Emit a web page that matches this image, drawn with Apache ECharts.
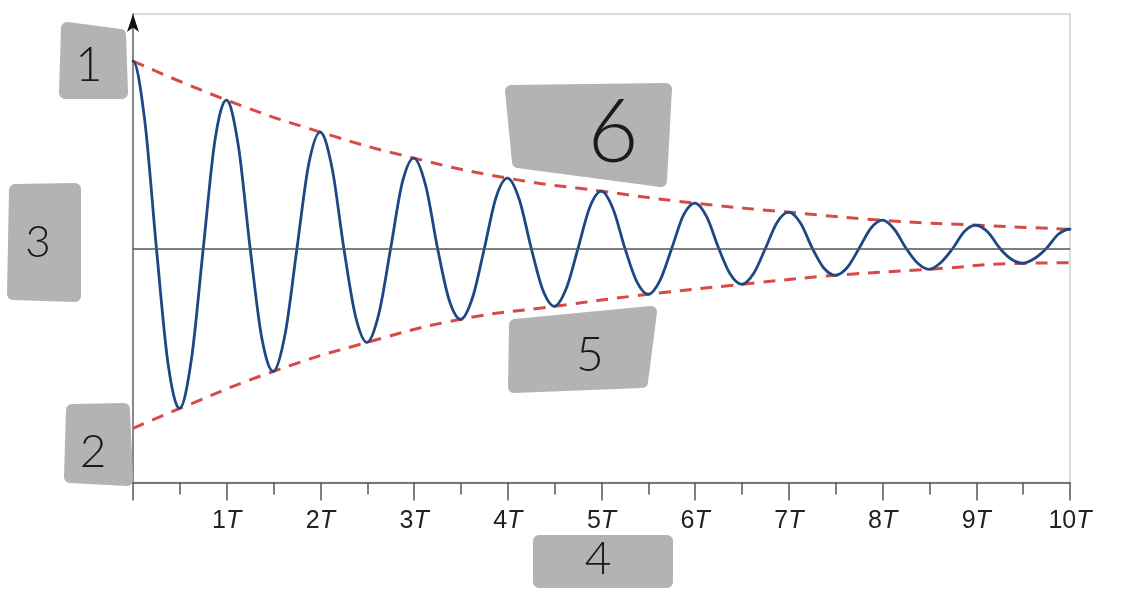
<!DOCTYPE html>
<html>
<head>
<meta charset="utf-8">
<script src="https://cdn.jsdelivr.net/npm/echarts@6/dist/echarts.min.js"></script>
<style>
  html, body { margin: 0; padding: 0; background: #fff; }
  #chart { width: 1126px; height: 590px; }
</style>
</head>
<body>
<div id="chart"></div>
<script>
// Displacement every 1/8 period (time in periods T)
const waveTimes = [
  0, 0.125, 0.25, 0.375, 0.5, 0.625, 0.75, 0.875,
  1, 1.125, 1.25, 1.375, 1.5, 1.625, 1.75, 1.875,
  2, 2.125, 2.25, 2.375, 2.5, 2.625, 2.75, 2.875,
  3, 3.125, 3.25, 3.375, 3.5, 3.625, 3.75, 3.875,
  4, 4.125, 4.25, 4.375, 4.5, 4.625, 4.75, 4.875,
  5, 5.125, 5.25, 5.375, 5.5, 5.625, 5.75, 5.875,
  6, 6.125, 6.25, 6.375, 6.5, 6.625, 6.75, 6.875,
  7, 7.125, 7.25, 7.375, 7.5, 7.625, 7.75, 7.875,
  8, 8.125, 8.25, 8.375, 8.5, 8.625, 8.75, 8.875,
  9, 9.125, 9.25, 9.375, 9.5, 9.625, 9.75, 9.875,
  10
];
const waveValues = [
  187, 128, 0, -116, -160, -110, 0, 108,
  148, 102, 0, -90, -123, -85, 0, 84,
  116, 80, 0, -68, -94, -65, 0, 66,
  90, 62, 0, -52, -71, -49, 0, 51,
  70, 48, 0, -42, -58, -40, 0, 41,
  57, 39, 0, -33, -46, -32, 0, 33,
  45, 31, 0, -26, -36, -25, 0, 26,
  36, 25, 0, -20, -27, -19, 0, 20,
  28, 19, 0, -15, -21, -14, 0, 17,
  23, 16, 0, -11, -15, -10, 0, 14,
  19
];
// Envelopes
const upperTimes = [0, 1, 2, 3, 4, 5, 6, 7, 8, 9, 10];
const upperValues = [187, 148, 116, 90, 70, 57, 45, 36, 28, 23, 19];
const lowerTimes = [0, 0.5, 1.5, 2.5, 3.5, 4.5, 5.5, 6.5, 7.5, 8.5, 9.5, 10];
const lowerValues = [-180, -160, -123, -94, -71, -58, -46, -36, -27, -21, -15, -14.5];
// Tick labels
const tickNumbers = ['', '1', '2', '3', '4', '5', '6', '7', '8', '9', '10'];
const tickUnit = 'T';
// Annotation box numbers
const boxLabels = ['1', '2', '3', '4', '5', '6'];

const wave = waveTimes.map((t, i) => [t, waveValues[i]]);
const upper = upperTimes.map((t, i) => [t, upperValues[i]]);
const lower = lowerTimes.map((t, i) => [t, lowerValues[i]]);

const chart = echarts.init(document.getElementById('chart'));

// Smooth curve through the wave samples (uniform Catmull-Rom), positioned via the axes
function renderWave(params, api) {
  if (params.dataIndexInside !== 0) return null;
  const pts = wave.map(p => api.coord(p));
  const n = pts.length;
  const first = [2 * pts[0][0] - pts[1][0], pts[1][1]];
  const last = [2 * pts[n - 1][0] - pts[n - 2][0], pts[n - 2][1]];
  const get = i => (i < 0 ? first : (i >= n ? last : pts[i]));
  let d = 'M' + pts[0][0].toFixed(2) + ' ' + pts[0][1].toFixed(2);
  for (let i = 0; i < n - 1; i++) {
    const p0 = get(i - 1), p1 = get(i), p2 = get(i + 1), p3 = get(i + 2);
    const c1x = p1[0] + (p2[0] - p0[0]) / 6, c1y = p1[1] + (p2[1] - p0[1]) / 6;
    const c2x = p2[0] - (p3[0] - p1[0]) / 6, c2y = p2[1] - (p3[1] - p1[1]) / 6;
    d += ' C' + c1x.toFixed(2) + ' ' + c1y.toFixed(2) + ' ' + c2x.toFixed(2) + ' ' + c2y.toFixed(2) +
         ' ' + p2[0].toFixed(2) + ' ' + p2[1].toFixed(2);
  }
  return {
    type: 'path',
    shape: { pathData: d },
    style: { fill: 'none', stroke: '#1d4883', lineWidth: 2.8, lineJoin: 'round', lineCap: 'round' }
  };
}

const boxColor = '#b3b3b3';
function box(points, label, tx, ty, size) {
  return [
    {
      type: 'polygon', silent: true, z: 10,
      shape: { points: points },
      style: { fill: boxColor, stroke: boxColor, lineWidth: 12, lineJoin: 'round' }
    },
    {
      type: 'text', silent: true, z: 11, x: tx, y: ty,
      style: {
        text: label, fill: '#1a1a1a', font: '300 ' + size + 'px Lato, "Open Sans", sans-serif',
        align: 'center', verticalAlign: 'middle'
      }
    }
  ];
}

const graphics = [].concat(
  box([[67, 28], [120, 35], [122, 93], [65, 93]], boxLabels[0], 89, 66, 47),
  box([[72, 410], [124, 409], [127, 480], [70, 477]], boxLabels[1], 93, 452, 46),
  box([[15, 190], [75, 189], [75, 296], [13, 294]], boxLabels[2], 38, 243, 44),
  box([[539, 541], [667, 541], [667, 582], [539, 582]], boxLabels[3], 598, 559, 46),
  box([[515, 325], [651, 312], [642, 382], [514, 387]], boxLabels[4], 590, 356, 48),
  box([[511, 91], [666, 89], [661, 181], [518, 162]], boxLabels[5], 613, 134, 88)
);

chart.setOption({
  backgroundColor: '#fff',
  animation: false,
  grid: {
    left: 133, right: 56, top: 14, bottom: 107.5,
    show: true, borderColor: '#cfcfcf', borderWidth: 1.5, backgroundColor: '#fff'
  },
  xAxis: {
    type: 'value', min: 0, max: 10, interval: 1,
    axisLine: { show: true, onZero: false, lineStyle: { color: '#777', width: 2 } },
    axisTick: { show: true, length: 18, lineStyle: { color: '#555', width: 1.5 } },
    minorTick: { show: true, splitNumber: 2, length: 12, lineStyle: { color: '#555', width: 1.5 } },
    splitLine: { show: false },
    axisLabel: {
      margin: 26,
      formatter: function (v) {
        const n = tickNumbers[Math.round(v)];
        return n ? '{n|' + n + '}{t|' + tickUnit + '}' : '';
      },
      rich: {
        n: { fontFamily: 'Liberation Sans, Arial, sans-serif', fontSize: 25, color: '#222', lineHeight: 26 },
        t: { fontFamily: 'Liberation Sans, Arial, sans-serif', fontSize: 25, fontStyle: 'italic', color: '#222', lineHeight: 26 }
      }
    }
  },
  yAxis: [
    {
      type: 'value', min: -234, max: 234,
      axisLine: { show: true, onZero: false, lineStyle: { color: '#888', width: 2 } },
      axisTick: { show: false },
      axisLabel: { show: false },
      splitLine: { show: false }
    },
    {
      type: 'value', min: -234, max: 234, position: 'left', z: 5,
      axisLine: {
        show: true, onZero: false, symbol: ['none', 'arrow'], symbolSize: [9, 18],
        lineStyle: { color: '#111', width: 0 }
      },
      axisTick: { show: false },
      axisLabel: { show: false },
      splitLine: { show: false }
    }
  ],
  series: [
    {
      type: 'line', data: upper, smooth: 0.5, symbol: 'none', z: 2,
      lineStyle: { color: '#d84a48', width: 3, type: [12, 9] },
      markLine: {
        silent: true, symbol: 'none', label: { show: false },
        lineStyle: { color: '#555', width: 1.5, type: 'solid' },
        data: [{ yAxis: 0 }]
      }
    },
    {
      type: 'line', data: lower, smooth: 0.5, symbol: 'none', z: 2,
      lineStyle: { color: '#d84a48', width: 3, type: [12, 9] }
    },
    {
      type: 'custom', data: wave, z: 3, silent: true,
      encode: { x: 0, y: 1 },
      renderItem: renderWave
    }
  ],
  graphic: graphics
});
</script>
</body>
</html>
